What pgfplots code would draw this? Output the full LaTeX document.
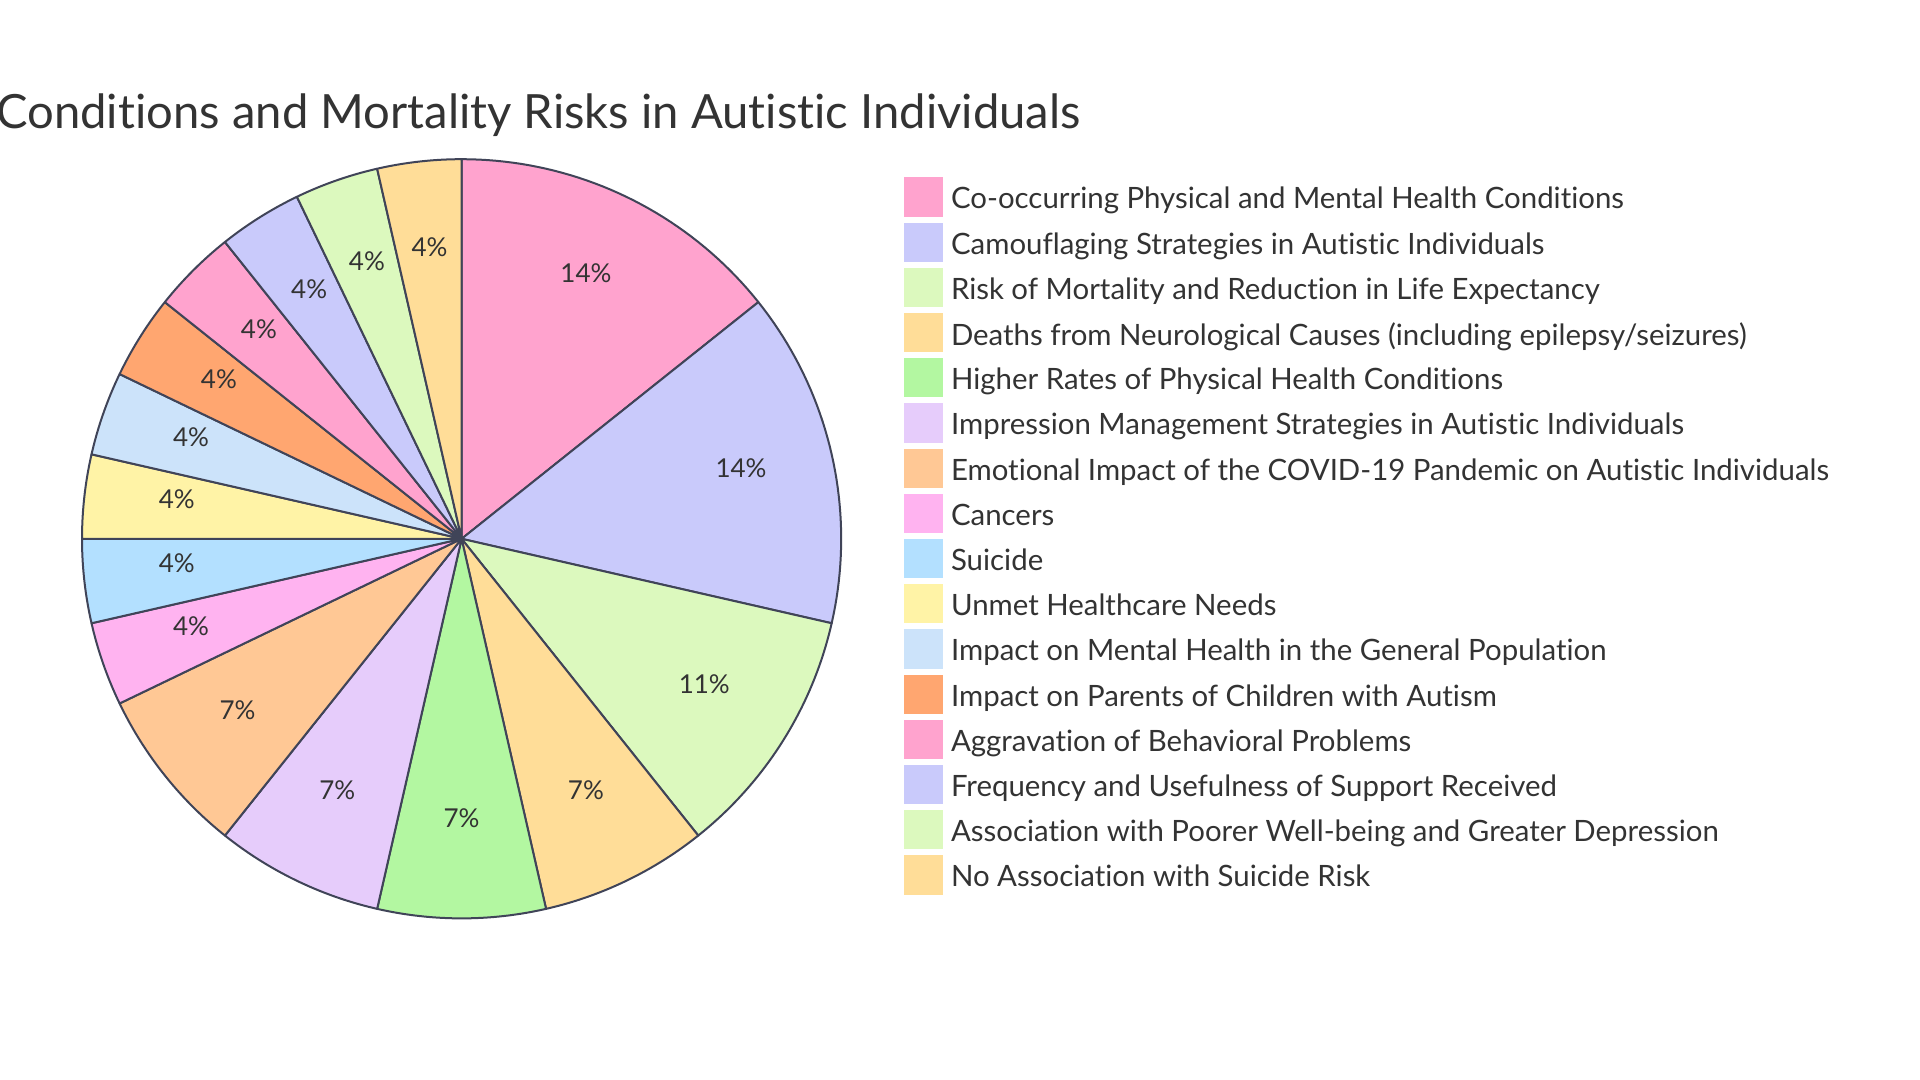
\documentclass[border=0pt]{standalone}
\usepackage{fontspec}
\setmainfont{Lato}[Ligatures=NoCommon]
\usepackage{pgfplots}
\pgfplotsset{compat=1.18}
\usepackage{pgfplotstable}

\definecolor{c1}{HTML}{FFA3CE}
\definecolor{c2}{HTML}{C9CAFB}
\definecolor{c3}{HTML}{DCF9BE}
\definecolor{c4}{HTML}{FFDD98}
\definecolor{c5}{HTML}{B3F7A1}
\definecolor{c6}{HTML}{E6CCFB}
\definecolor{c7}{HTML}{FFC895}
\definecolor{c8}{HTML}{FFB3F0}
\definecolor{c9}{HTML}{B3E0FF}
\definecolor{c10}{HTML}{FFF3A6}
\definecolor{c11}{HTML}{CCE3FA}
\definecolor{c12}{HTML}{FFA670}
\colorlet{c13}{c1}
\colorlet{c14}{c2}
\colorlet{c15}{c3}
\colorlet{c16}{c4}
\definecolor{stroke}{HTML}{404458}
\definecolor{textgray}{HTML}{333333}

\pgfplotstableread{
idx value
0 4
1 4
2 3
3 2
4 2
5 2
6 2
7 1
8 1
9 1
10 1
11 1
12 1
13 1
14 1
15 1
}\piedata

\begin{document}
\begin{tikzpicture}
\useasboundingbox (0,0) rectangle (960pt,540pt);
\node[anchor=west, inner sep=0pt, font=\fontsize{23.6}{28}\selectfont, text=textgray] at (-2pt,482.4pt) {Conditions and Mortality Risks in Autistic Individuals};
\begin{axis}[
  at={(230.8pt,270.6pt)}, anchor=center,
  width=379.6pt, height=379.6pt, scale only axis,
  xmin=-1, xmax=1, ymin=-1, ymax=1,
  hide axis, clip=false,
  legend style={draw=none, fill=none, at={(1.0825,0.976)}, anchor=north west,
    inner sep=0pt, outer sep=0pt, row sep=3.0pt,
    font=\fontsize{14.7}{16}\selectfont, text=textgray,
    nodes={inner sep=0pt},
    /tikz/every odd column/.style={column sep=4pt}},
  legend cell align=left,
  legend image code/.code={\path[#1, draw=none] (0pt,-8.5pt) rectangle (19.6pt,11.1pt);},
  legend entries={
    {Co-occurring Physical and Mental Health Conditions},
    {Camouflaging Strategies in Autistic Individuals},
    {Risk of Mortality and Reduction in Life Expectancy},
    {Deaths from Neurological Causes (including epilepsy/seizures)},
    {Higher Rates of Physical Health Conditions},
    {Impression Management Strategies in Autistic Individuals},
    {Emotional Impact of the COVID-19 Pandemic on Autistic Individuals},
    {Cancers},
    {Suicide},
    {Unmet Healthcare Needs},
    {Impact on Mental Health in the General Population},
    {Impact on Parents of Children with Autism},
    {Aggravation of Behavioral Problems},
    {Frequency and Usefulness of Support Received},
    {Association with Poorer Well-being and Greater Depression},
    {No Association with Suicide Risk}},
]
\def\cum{0}
\pgfplotsforeachungrouped \i in {0,...,15}{%
  \pgfplotstablegetelem{\i}{value}\of\piedata
  \let\v\pgfplotsretval
  \pgfmathsetmacro\a{90-360*\cum/28}%
  \pgfmathsetmacro\b{90-360*(\cum+\v)/28}%
  \def\coords{(0,0)}%
  \pgfplotsforeachungrouped \k in {0,...,40}{%
    \pgfmathsetmacro\t{\a+(\b-\a)*\k/40}%
    \pgfmathsetmacro\xx{cos(\t)}%
    \pgfmathsetmacro\yy{sin(\t)}%
    \edef\coords{\coords (\xx,\yy)}%
  }%
  \pgfmathtruncatemacro\colidx{\i+1}%
  \edef\cmd{\noexpand\addplot[fill=c\colidx, draw=stroke, line width=1pt, line join=round] coordinates {\coords} -- cycle;}%
  \cmd
  \pgfmathsetmacro\m{(\a+\b)/2}%
  \pgfmathsetmacro\lx{0.755*cos(\m)}%
  \pgfmathsetmacro\ly{0.755*sin(\m)}%
  \pgfmathtruncatemacro\pct{round(100*\v/28)}%
  \edef\cmd{\noexpand\node[font=\noexpand\fontsize{13}{15}\noexpand\selectfont, text=textgray, yshift=3.6pt] at (axis cs:\lx,\ly) {\pct\noexpand\%};}%
  \cmd
  \pgfmathsetmacro\cum{\cum+\v}%
}
\end{axis}
\end{tikzpicture}
\end{document}
